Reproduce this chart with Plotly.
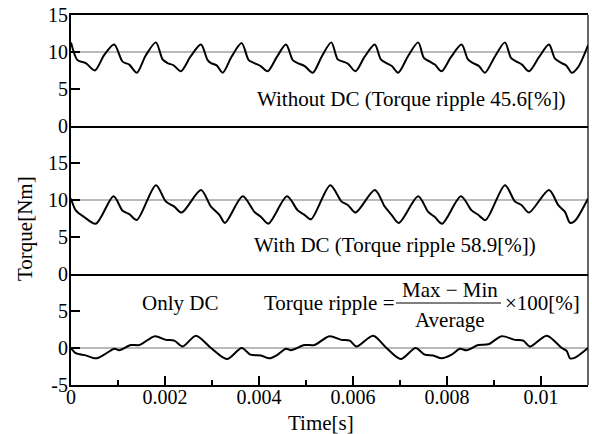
import plotly.graph_objects as go

# time axis [s] and torque values [Nm]
t_without = [0, 0.000138, 0.000315, 0.000507, 0.000707, 0.000920, 0.001097, 0.001240, 0.001401, 0.001587,
             0.001806, 0.001949, 0.002055, 0.002183, 0.002339, 0.002545, 0.002765, 0.002907, 0.002978, 0.003099,
             0.003227, 0.003419, 0.003632, 0.003781, 0.003902, 0.004036, 0.004185, 0.004377, 0.004575, 0.004718,
             0.004824, 0.004973, 0.005144, 0.005336, 0.005538, 0.005676, 0.005789, 0.005896, 0.006053, 0.006251,
             0.006464, 0.006592, 0.006713, 0.006826, 0.006961, 0.007167, 0.007387, 0.007508, 0.007636, 0.007742,
             0.007885, 0.008083, 0.008311, 0.008445, 0.008558, 0.008679, 0.008807, 0.009020, 0.009233, 0.009361,
             0.009482, 0.009595, 0.009744, 0.009957, 0.010170, 0.010298, 0.010441, 0.010532, 0.010581, 0.010654,
             0.010794, 0.011]
torque_without = [11.3, 8.9, 8.5, 7.5, 9.6, 11.0, 8.7, 8.3, 7.2, 9.5,
                  11.3, 9.0, 8.5, 8.2, 7.4, 9.4, 11.0, 8.9, 8.5, 8.2,
                  7.2, 9.4, 11.2, 8.9, 8.5, 8.1, 7.4, 9.3, 11.0, 8.9,
                  8.5, 8.1, 7.2, 9.4, 11.3, 9.0, 8.7, 8.4, 7.4, 9.4,
                  11.0, 9.0, 8.5, 8.1, 7.2, 9.4, 11.3, 9.2, 8.7, 8.3,
                  7.4, 9.3, 11.0, 9.0, 8.5, 8.1, 7.2, 9.4, 11.3, 9.2,
                  8.7, 8.3, 7.4, 9.3, 11.0, 9.1, 8.5, 8.2, 7.8, 7.2,
                  8.0, 10.9]

t_with = [0, 0.000102, 0.000281, 0.000528, 0.000905, 0.001097, 0.001240, 0.001401, 0.001806, 0.002019,
          0.002198, 0.002354, 0.002765, 0.002978, 0.003157, 0.003276, 0.003653, 0.003902, 0.004043, 0.004200,
          0.004596, 0.004824, 0.004967, 0.005108, 0.005516, 0.005755, 0.005896, 0.006053, 0.006464, 0.006677,
          0.006820, 0.006976, 0.007387, 0.007599, 0.007742, 0.007898, 0.008296, 0.008524, 0.008664, 0.008822,
          0.009233, 0.009446, 0.009589, 0.009744, 0.010170, 0.010368, 0.010511, 0.010618, 0.010724, 0.011]
torque_with = [10.2, 8.6, 7.7, 6.8, 10.5, 8.55, 8.1, 7.3, 12.0, 9.8,
               9.1, 8.3, 11.35, 9.1, 8.0, 6.9, 10.5, 8.4, 7.7, 6.8,
               10.5, 8.6, 8.0, 7.4, 12.0, 9.8, 9.3, 8.3, 11.35, 9.1,
               8.0, 6.9, 10.5, 8.4, 7.7, 6.8, 10.5, 8.6, 8.0, 7.3,
               12.0, 9.8, 9.3, 8.3, 11.35, 9.3, 8.4, 6.9, 7.2, 10.2]

t_dc = [0, 0.000102, 0.000315, 0.000528, 0.000707, 0.000920, 0.001027, 0.001274, 0.001453, 0.001785,
        0.002019, 0.002198, 0.002375, 0.002658, 0.002978, 0.003318, 0.003632, 0.003817, 0.004043, 0.004222,
        0.004398, 0.004575, 0.004682, 0.004967, 0.005180, 0.005499, 0.005755, 0.005932, 0.006075, 0.006428,
        0.006713, 0.007018, 0.007331, 0.007529, 0.007706, 0.007885, 0.008098, 0.008275, 0.008417, 0.008664,
        0.008878, 0.009163, 0.009446, 0.009623, 0.009766, 0.010121, 0.010441, 0.010547, 0.010618, 0.010724,
        0.011]
torque_dc = [0.0, -0.7, -1.0, -1.4, -0.9, -0.1, -0.3, 0.4, 0.4, 1.6,
             1.1, 1.0, 0.2, 1.66, 0.0, -1.5, 0.0, -0.9, -1.0, -1.4,
             -0.9, -0.1, -0.3, 0.4, 0.4, 1.6, 1.1, 1.0, 0.2, 1.66,
             0.0, -1.5, 0.0, -0.9, -1.0, -1.4, -0.9, -0.1, -0.3, 0.4,
             0.5, 1.6, 1.1, 1.0, 0.2, 1.66, 0.0, -0.4, -1.4, -1.3,
             0.0]

x_tickvals = [0, 0.002, 0.004, 0.006, 0.008, 0.01]
x_ticktext = ["0", "0.002", "0.004", "0.006", "0.008", "0.01"]

FONT = "Liberation Serif, Times New Roman, serif"
TICK_SIZE = 20
TEXT_SIZE = 21
W, H = 592, 434
L, R, T, B = 71, 4, 15, 49


def px(x):
    return (x - L) / (W - L - R)


def py(y):
    return (H - B - y) / (H - T - B)


line = dict(color="black", width=2, shape="spline", smoothing=0.8)

fig = go.Figure()
fig.add_trace(go.Scatter(x=t_dc, y=torque_dc, mode="lines", line=line, xaxis="x", yaxis="y"))
fig.add_trace(go.Scatter(x=t_with, y=torque_with, mode="lines", line=line, xaxis="x2", yaxis="y2"))
fig.add_trace(go.Scatter(x=t_without, y=torque_without, mode="lines", line=line, xaxis="x3", yaxis="y3"))

# reference lines (10 Nm for top panels, 0 for DC panel)
for yref, val in [("y", 0), ("y2", 10), ("y3", 10)]:
    fig.add_shape(type="line", xref="paper", yref=yref, x0=0, x1=1, y0=val, y1=val,
                  line=dict(color="#777777", width=1.2), layer="below")

yax = dict(showline=True, linecolor="black", linewidth=2, mirror=False, automargin=False,
           ticks="inside", ticklen=9, tickwidth=2, tickcolor="black", ticklabelstandoff=-3,
           showgrid=False, zeroline=False, tickfont=dict(family=FONT, size=TICK_SIZE, color="black"))
xax_hidden = dict(range=[0, 0.011], showline=True, linecolor="black", linewidth=2, automargin=False,
                  showticklabels=False, ticks="", showgrid=False, zeroline=False, matches="x")

fig.update_layout(
    width=W, height=H, autosize=False,
    margin=dict(l=L, r=R, t=T, b=B),
    plot_bgcolor="white", paper_bgcolor="white",
    showlegend=False,
    font=dict(family=FONT, size=TEXT_SIZE, color="black"),
    xaxis=dict(range=[0, 0.011], domain=[0, 1], anchor="y", automargin=False,
               showline=True, linecolor="black", linewidth=2,
               tickmode="array", tickvals=x_tickvals, ticktext=x_ticktext,
               ticks="inside", ticklen=9, tickwidth=2, tickcolor="black", ticklabelstandoff=-7,
               minor=dict(tickmode="linear", tick0=0, dtick=0.001, ticks="inside",
                          ticklen=5, tickwidth=1.5, tickcolor="black"),
               showgrid=False, zeroline=False,
               tickfont=dict(family=FONT, size=TICK_SIZE, color="black")),
    xaxis2=dict(xax_hidden, anchor="y2"),
    xaxis3=dict(xax_hidden, anchor="y3", mirror=True),
    yaxis=dict(yax, domain=[0, 0.3], range=[-5, 10],
               tickmode="array", tickvals=[-5, 0, 5], ticktext=["-5", "0", "5"]),
    yaxis2=dict(yax, domain=[0.3, 0.7], range=[0, 20],
                tickmode="array", tickvals=[0, 5, 10, 15]),
    yaxis3=dict(yax, domain=[0.7, 1], range=[0, 15],
                tickmode="array", tickvals=[0, 5, 10, 15]),
)

# right-hand frame line
fig.add_shape(type="line", xref="paper", yref="paper", x0=1, x1=1, y0=0, y1=1,
              line=dict(color="black", width=1.2))

ann = [
    ("Without DC (Torque ripple 45.6[%])", 411, 99, "center"),
    ("With DC (Torque ripple 58.9[%])", 395, 245, "center"),
    ("Only DC", 180, 303, "center"),
    ("Torque ripple =", 397, 303, "right"),
    ("Max \u2212 Min", 450, 290, "center"),
    ("Average", 450, 320, "center"),
    ("\u00d7100[%]", 503, 303, "left"),
    ("Time[s]", 321, 423, "center"),
]
for text, x, y, xa in ann:
    fig.add_annotation(text=text, x=px(x), y=py(y), xref="paper", yref="paper",
                       xanchor=xa, yanchor="middle", showarrow=False,
                       font=dict(family=FONT, size=TEXT_SIZE, color="black"))

# fraction bar
fig.add_shape(type="line", xref="paper", yref="paper", x0=px(396), x1=px(501), y0=py(303), y1=py(303),
              line=dict(color="black", width=1.2))

fig.add_annotation(text="Torque[Nm]", x=px(25), y=py(229), xref="paper", yref="paper",
                   xanchor="center", yanchor="middle", textangle=-90, showarrow=False,
                   font=dict(family=FONT, size=TEXT_SIZE, color="black"))

# browser default body margin would shift the figure by 8px
fig.write_html("out.html", config={"displayModeBar": False},
               post_script="document.body.style.margin='0';document.body.style.padding='0';")
